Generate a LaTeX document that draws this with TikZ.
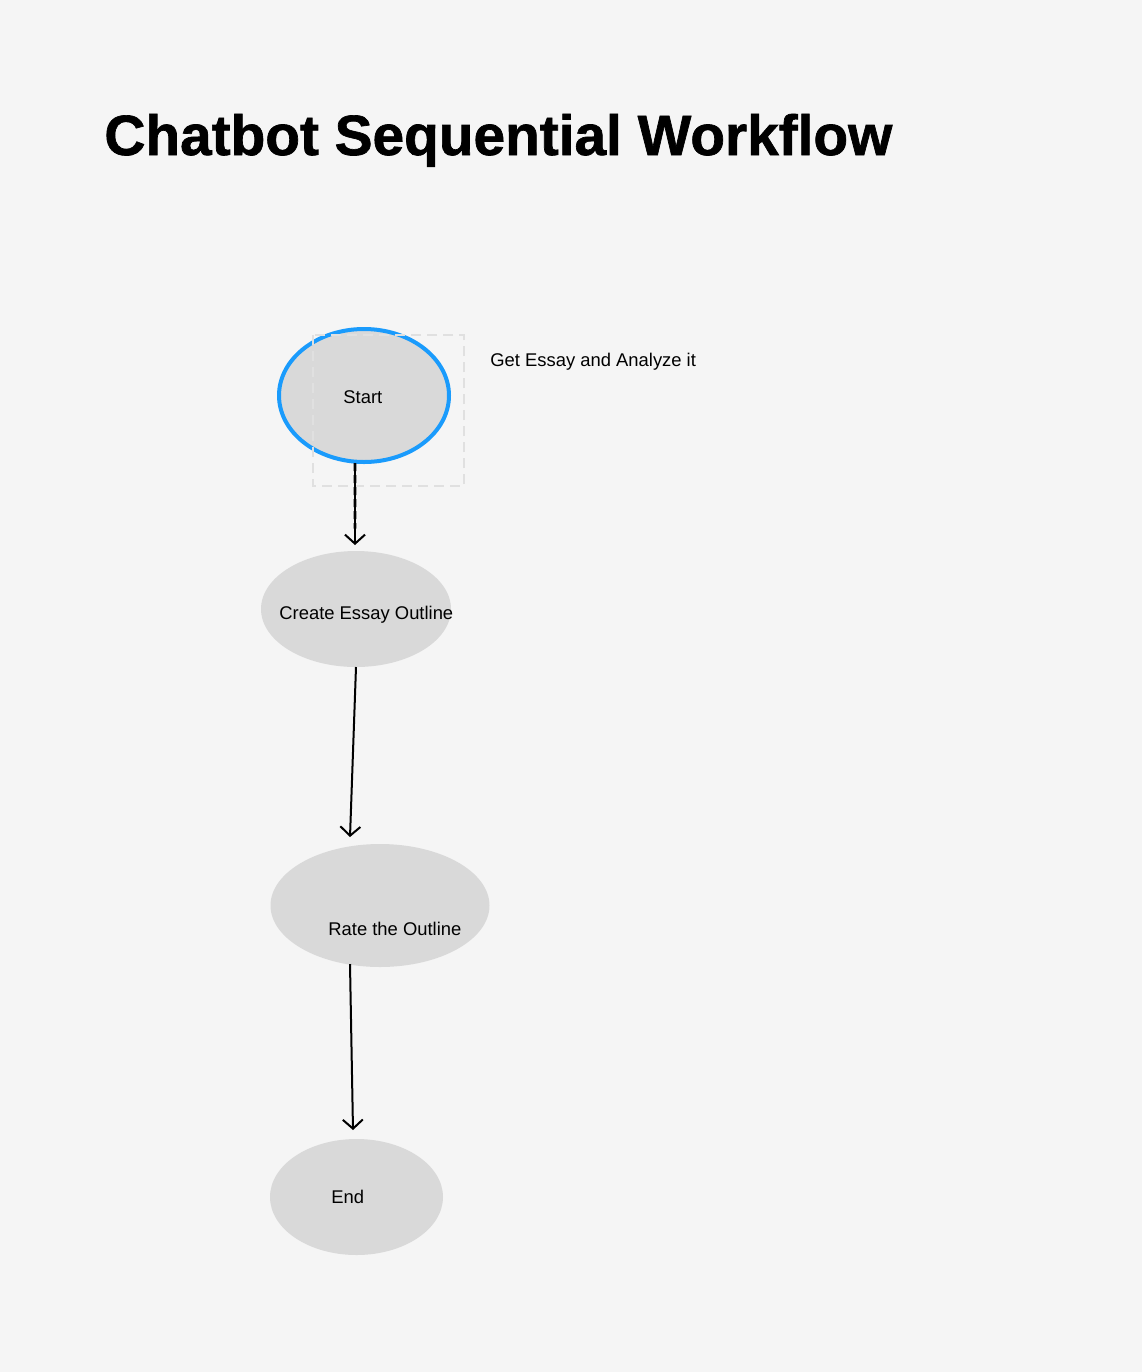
\documentclass[tikz,border=0pt]{standalone}
\usepackage{fontspec}
\setmainfont{Liberation Sans}
\newfontfamily\titlefont[FakeBold=1.2]{Liberation Sans Bold}
\usetikzlibrary{shapes.geometric,arrows.meta,calc}

\definecolor{bgcol}{HTML}{F5F5F5}
\definecolor{nodecol}{HTML}{D9D9D9}
\definecolor{selblue}{HTML}{1A9BFC}
\definecolor{boxcol}{HTML}{E0E0E0}

\tikzset{
  state/.style={ellipse, fill=nodecol, inner sep=0pt},
  label text/.style={anchor=base west, font=\fontsize{9.2pt}{11pt}\selectfont},
  flow/.style={line width=1pt, -{Straight Barb[length=4.5pt,width=10pt,line width=1pt]}}
}

\begin{document}
\begin{tikzpicture}[x=0.5pt,y=-0.5pt]
  % background
  \fill[bgcol] (0,0) rectangle (1142,1372);
  \useasboundingbox (0,0) rectangle (1142,1372);

  % title
  \node[anchor=base west, inner sep=0pt, font=\titlefont\fontsize{28.4pt}{32pt}\selectfont] (title) at (104,155) {Chatbot Sequential Workflow};

  % the states
  \node[state, draw=selblue, line width=2pt, minimum width=85pt, minimum height=66.5pt] (start) at (364,395.5) {};
  \node[state, minimum width=95pt, minimum height=58pt] (outline) at (356,609) {};
  \node[state, minimum width=109.5pt, minimum height=61.5pt] (rate) at (380,905.5) {};
  \node[state, minimum width=86.5pt, minimum height=58pt] (end) at (356.5,1197) {};

  % selection box round start
  \draw[boxcol, line width=0.8pt, dash pattern=on 5pt off 3pt] (313,335) rectangle (464,486);

  % texts
  \node[label text, inner sep=0pt] (startlbl) at (343,403.3) {Start};
  \node[label text, inner sep=0pt] (getlbl) at (490,366.7) {Get Essay and Analyze it};
  \node[label text, inner sep=0pt] (outlinelbl) at (279,619) {Create Essay Outline};
  \node[label text, inner sep=0pt] (ratelbl) at (328,935) {Rate the Outline};
  \node[label text, inner sep=0pt] (endlbl) at (331,1203.3) {End};

  % arrow ends
  \coordinate (s1) at (355,463);
  \coordinate (s2) at (355,545);
  \coordinate (o1) at (356,667);
  \coordinate (o2) at (350,837);
  \coordinate (r1) at (350,964);
  \coordinate (r2) at (353,1130);

  % connectors
  \draw[flow] (s1) -- (s2);
  \draw[line width=1.3pt, dash pattern=on 4pt off 2pt] (s1) -- ($(s1)!0.8!(s2)$);
  \draw[flow] (o1) -- (o2);
  \draw[flow] (r1) -- (r2);
\end{tikzpicture}
\end{document}
